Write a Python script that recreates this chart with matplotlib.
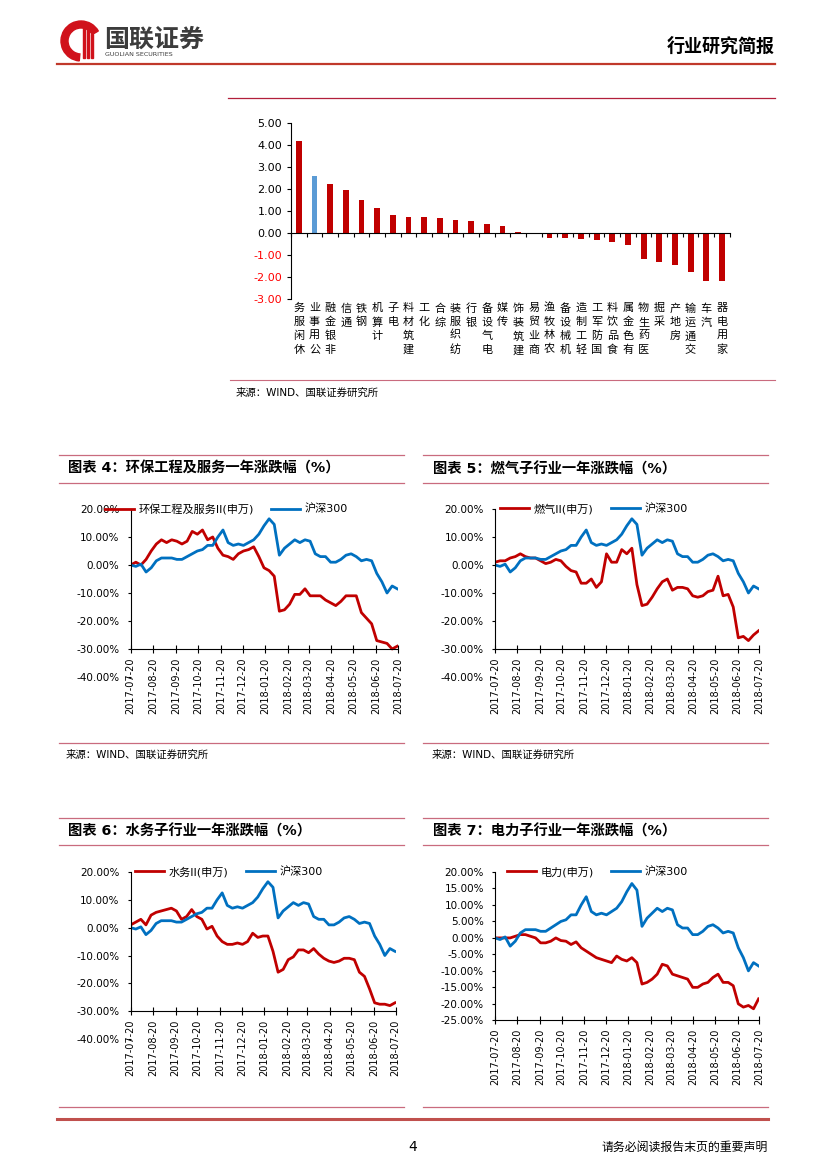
import numpy as np
import pandas as pd
import matplotlib
matplotlib.use('Agg')
import matplotlib.pyplot as plt
import matplotlib.dates as mdates
import matplotlib.transforms as mtransforms
from matplotlib.patches import Wedge, Rectangle
from matplotlib.ticker import FuncFormatter, MultipleLocator

plt.rcParams['font.family'] = ['DejaVu Sans', 'Noto Sans CJK SC']
plt.rcParams['axes.unicode_minus'] = False

RED = '#C00000'
BLUE = '#0070C0'
BAR_BLUE = '#5B9BD5'
LINE_PINK = '#C96B7E'

# ---- bar chart: industry weekly change (%)
sectors = ['休闲服务', '公用事业', '非银金融', '通信', '钢铁', '计算机', '电子', '建筑材料',
           '化工', '综合', '纺织服装', '银行', '电气设备', '传媒', '建筑装饰', '商业贸易',
           '农林牧渔', '机械设备', '轻工制造', '国防军工', '食品饮料', '有色金属', '医药生物',
           '采掘', '房地产', '交通运输', '汽车', '家用电器']
sector_chg = [4.18, 2.59, 2.21, 1.97, 1.52, 1.15, 0.80, 0.73, 0.71, 0.67, 0.58, 0.53, 0.42,
              0.33, 0.06, -0.03, -0.21, -0.23, -0.26, -0.33, -0.41, -0.55, -1.21, -1.32,
              -1.47, -1.77, -2.18, -2.21]
highlight = '公用事业'
bar_ticks = [-3, -2, -1, 0, 1, 2, 3, 4, 5]

# ---- one-year curves, weekly samples from 2017-07-20 (%)
week_dates = pd.date_range('2017-07-20', periods=53, freq='7D')
month_ticks = [pd.Timestamp('2017-07-20') + pd.DateOffset(months=i) for i in range(13)]

hs300 = [0, -0.5, 0.3, -2.5, -1, 1.5, 2.5, 2.5, 2.5, 2.0,
         2.0, 3, 4, 5, 5.5, 7, 7, 10, 12.5, 8,
         7, 7.5, 7, 8, 9, 11, 14, 16.5, 14.5, 3.5,
         6, 7.5, 9, 8, 9, 8.5, 4, 3, 3, 1,
         1, 2, 3.5, 4, 3, 1.5, 2, 1.5, -3, -6,
         -10, -7.5, -8.5]
env_srv = [0, 1, 0, 2, 5, 7.5, 9, 8, 9, 8.5,
           7.5, 8.5, 12, 11, 12.5, 9, 10, 6, 3.5, 3,
           2, 4, 5, 5.5, 6.5, 3, -1, -2, -4, -16.5,
           -16, -14, -10.5, -10.5, -8.5, -11, -11, -11, -12.5, -13.5,
           -14.5, -13, -11, -11, -11, -17, -19, -21, -27, -27.5,
           -28, -30, -29]
gas = [1, 1.5, 1.5, 2.5, 3, 4, 3, 2.5, 2.5, 1.5,
       0.5, 1, 2, 1.5, -0.5, -2, -2.5, -6.5, -6.5, -5,
       -8, -6, 4, 1, 1, 5.5, 4, 6, -7, -14.5,
       -14, -11.5, -8.5, -6, -5, -9, -8, -8, -8.5, -11,
       -11.5, -11, -9.5, -9, -4, -11, -10.5, -15, -26, -25.5,
       -27, -25, -23.5]
water = [1, 2, 3, 1, 4.5, 5.5, 6, 6.5, 7, 6,
         3, 4, 6.5, 4, 3, -0.5, 0.5, -3, -5, -6,
         -6, -5.5, -6, -5, -2, -3.5, -3, -3, -8.5, -16,
         -15, -11.5, -10.5, -8, -8, -9, -7.5, -9.5, -11, -12,
         -12.5, -12, -11, -11, -11.5, -16, -17.5, -22, -27, -27.5,
         -27.5, -28, -27]
power = [0, 0, 0, 0, 0.5, 1, 1, 0.5, 0, -1.5,
         -1.5, -1, 0, -0.8, -1, -2, -1.2, -3, -4, -5,
         -6, -6.5, -7, -7.5, -5.5, -6.5, -7, -6, -7.5, -14,
         -13.5, -12.5, -11, -8, -8.5, -11, -11.5, -12, -12.5, -15,
         -15, -14, -13.5, -12, -11, -13.5, -13.5, -14.5, -20, -21,
         -20.5, -21.5, -18.5]

W, H = 827, 1169
fig = plt.figure(figsize=(W / 100, H / 100), dpi=100)


def px_rect(left, top, right, bottom):
    return [left / W, 1 - bottom / H, (right - left) / W, (bottom - top) / H]


# page decoration layer in pixel coordinates
bg = fig.add_axes([0, 0, 1, 1], zorder=-1)
bg.set_xlim(0, W)
bg.set_ylim(H, 0)
bg.axis('off')

# logo
bg.add_patch(Wedge((81, 41), 20, 95, 330, width=7, color='#D0121B'))
for x0, top in [(83, 22), (87, 28), (91, 34)]:
    bg.add_patch(Rectangle((x0, top), 2.2, 58 - top, color='#D0121B'))
bg.text(104, 40, '国联证券', fontsize=18, fontweight='bold', color='#3C3C3C', va='center')
bg.text(105, 55, 'GUOLIAN SECURITIES', fontsize=4.6, color='#3C3C3C', va='center')
bg.text(775, 47, '行业研究简报', fontsize=13, fontweight='bold', ha='right', va='center')
bg.plot([57, 775], [64, 64], color='#C0392B', lw=1.6)

# bar chart frame
bg.plot([228, 775], [98, 98], color='#B21F3B', lw=0.9)
bg.plot([230, 775], [380, 380], color=LINE_PINK, lw=0.8)
bg.text(236, 393, '来源：WIND、国联证券研究所', fontsize=7.5, va='center')

# chart blocks
for y in (455, 483, 743, 818, 845, 1107):
    bg.plot([59, 404], [y, y], color=LINE_PINK, lw=0.9)
    bg.plot([423, 768], [y, y], color=LINE_PINK, lw=0.9)
titles = [(68, 469, '图表 4：环保工程及服务一年涨跌幅（%）'),
          (433, 469, '图表 5：燃气子行业一年涨跌幅（%）'),
          (68, 831, '图表 6：水务子行业一年涨跌幅（%）'),
          (433, 831, '图表 7：电力子行业一年涨跌幅（%）')]
for x, y, t in titles:
    bg.text(x, y, t, fontsize=10.3, fontweight='bold', va='center')
for x in (66, 432):
    bg.text(x, 755, '来源：WIND、国联证券研究所', fontsize=7.5, va='center')

# footer
bg.plot([57, 768], [1119, 1119], color='#C0504D', lw=2.2)
bg.text(413, 1147, '4', fontsize=10, ha='center', va='center')
bg.text(768, 1147, '请务必阅读报告末页的重要声明', fontsize=8.6, ha='right', va='center')

# ---- bar chart
axb = fig.add_axes(px_rect(291, 123.3, 729.7, 298.7))
xpos = np.arange(len(sectors))
colors = [BAR_BLUE if s == highlight else RED for s in sectors]
axb.bar(xpos, sector_chg, width=0.38, color=colors)
axb.set_xlim(-0.5, len(sectors) - 0.5)
axb.set_ylim(-3, 5)
axb.set_yticks(bar_ticks, labels=[f'{v:.2f}' for v in bar_ticks])
for v, lab in zip(bar_ticks, axb.get_yticklabels()):
    lab.set_color('#FF0000' if v < 0 else 'black')
axb.tick_params(axis='y', labelsize=8, length=3, width=0.8)
axb.set_xticks([])
axb.set_xticks(np.arange(-0.5, len(sectors), 1), minor=True)
axb.tick_params(axis='x', which='minor', length=3, width=0.8, direction='out')
# category names stacked vertically below the plot area
lab_tr = mtransforms.blended_transform_factory(axb.transData, axb.transAxes)
for x, s in zip(xpos, sectors):
    axb.text(x, -0.025, '\n'.join(reversed(s)), transform=lab_tr, ha='center', va='top',
             fontsize=8, linespacing=1.45)
axb.spines[['top', 'right']].set_visible(False)
axb.spines['bottom'].set_position(('data', 0))
for sp in ('left', 'bottom'):
    axb.spines[sp].set_linewidth(0.8)


# ---- line charts
def line_panel(rect, values, name, ymin, ystep, axis_y, legend_x, legend_y):
    ax = fig.add_axes(rect)
    l1, = ax.plot(week_dates, values, color=RED, lw=2.0)
    l2, = ax.plot(week_dates, hs300, color=BLUE, lw=2.0)
    ax.set_xlim(month_ticks[0], month_ticks[-1])
    ax.set_ylim(ymin, 20)
    ax.yaxis.set_major_locator(MultipleLocator(ystep))
    ax.yaxis.set_major_formatter(FuncFormatter(lambda v, p: f'{v:.2f}%'))
    ax.set_xticks(month_ticks)
    ax.xaxis.set_major_formatter(mdates.DateFormatter('%Y-%m-%d'))
    ax.tick_params(axis='x', rotation=90, labelsize=7, direction='inout', length=6, width=0.8, pad=3)
    ax.tick_params(axis='y', labelsize=7.5, length=2, width=0.8, pad=6)
    ax.spines[['top', 'right']].set_visible(False)
    ax.spines['bottom'].set_position(('data', axis_y))
    ax.spines['left'].set_bounds(axis_y, 20)
    for sp in ('left', 'bottom'):
        ax.spines[sp].set_linewidth(0.8)
    ax.legend([l1, l2], [name, '沪深300'], ncol=2, frameon=False, fontsize=8,
              loc='center left', bbox_to_anchor=(legend_x / W, 1 - legend_y / H),
              bbox_transform=fig.transFigure, borderpad=0, borderaxespad=0,
              handlelength=2.6, handletextpad=0.4, columnspacing=1.6)
    return ax


line_panel(px_rect(130.7, 509, 398, 677), env_srv, '环保工程及服务II(申万)', -40, 10, -30, 105, 509)
line_panel(px_rect(495, 509, 759.3, 677), gas, '燃气II(申万)', -40, 10, -30, 500, 509)
line_panel(px_rect(130.7, 872, 395.7, 1039), water, '水务II(申万)', -40, 10, -30, 135, 872)
line_panel(px_rect(495, 872, 759.3, 1020.3), power, '电力(申万)', -25, 5, -25, 507, 872)

fig.savefig('out.png', dpi=100)
